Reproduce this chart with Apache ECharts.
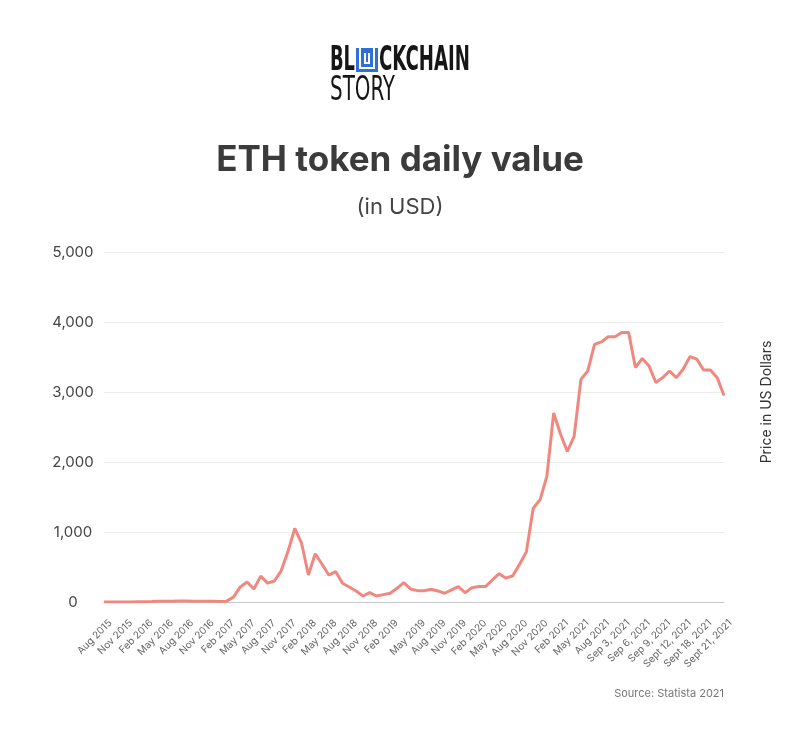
<!DOCTYPE html>
<html>
<head>
<meta charset="utf-8">
<script src="https://cdn.jsdelivr.net/npm/echarts@6/dist/echarts.min.js"></script>
<style>
  html, body { margin: 0; padding: 0; background: #fff; }
  #chart { width: 800px; height: 741px; }
</style>
</head>
<body>
<div id="chart"></div>
<script>
// x axis tick labels (every ~3rd point)
const xLabels = ['Aug 2015', 'Nov 2015', 'Feb 2016', 'May 2016', 'Aug 2016', 'Nov 2016',
  'Feb 2017', 'May 2017', 'Aug 2017', 'Nov 2017', 'Feb 2018', 'May 2018', 'Aug 2018',
  'Nov 2018', 'Feb 2019', 'May 2019', 'Aug 2019', 'Nov 2019', 'Feb 2020', 'May 2020',
  'Aug 2020', 'Nov 2020', 'Feb 2021', 'May 2021', 'Aug 2021', 'Sep 3, 2021', 'Sep 6, 2021',
  'Sep 9, 2021', 'Sept 12, 2021', 'Sept 18, 2021', 'Sept 21, 2021'];

// ETH price, USD
const prices = [
  1, 1, 1, 1, 1, 2, 3, 6, 10, 10, 12, 14, 13, 12, 11, 10, 9, 8,
  12, 70, 215, 285, 185, 370, 270, 300, 445, 720, 1050, 840, 385, 690, 540, 385,
  435, 268, 215, 158, 86, 133, 86, 105, 125, 196, 277, 186, 162, 162, 182, 158,
  125, 172, 220, 133, 205, 220, 220, 315, 405, 340, 375, 540, 720, 1340, 1460, 1795,
  2700, 2400, 2150, 2365, 3180, 3300, 3680, 3715, 3790, 3790, 3850, 3850, 3350, 3480,
  3370, 3135, 3205, 3300, 3205, 3325, 3505, 3470, 3315, 3315, 3205, 2950
];

const yTicks = [0, 1000, 2000, 3000, 4000, 5000];

// place the tick labels along the points
let categories = prices.map(() => '');
xLabels.forEach((lab, k) => {
  categories[Math.round(k * (prices.length - 1) / (xLabels.length - 1))] = lab;
});

const chart = echarts.init(document.getElementById('chart'));

// logo text helper: squeeze a word into a given width
const ctx = document.createElement('canvas').getContext('2d');
function logoWord(text, x, w, cy, weight) {
  const font = weight + ' 33px "DejaVu Sans Condensed"';
  ctx.font = font;
  const s = w / ctx.measureText(text).width;
  return {
    type: 'text', x: x, y: cy, scaleX: s,
    style: { text: text, font: font, fill: '#161616', align: 'left', verticalAlign: 'middle' }
  };
}

const ix = 356, iy = 48;

const option = {
  animation: false,
  grid: { left: 104, right: 76, top: 252, bottom: 139 },
  graphic: [
    logoWord('BL', 330, 25, 61, 'bold'),
    { type: 'rect', shape: { x: ix, y: iy, width: 22, height: 24 }, style: { fill: '#2f6fd8' } },
    { type: 'polyline', shape: { points: [[ix + 4, iy], [ix + 4, iy + 20], [ix + 18, iy + 20], [ix + 18, iy]] },
      style: { stroke: '#fff', lineWidth: 2, fill: null } },
    { type: 'polyline', shape: { points: [[ix + 9, iy + 5], [ix + 9, iy + 15], [ix + 13, iy + 15], [ix + 13, iy + 5]] },
      style: { stroke: '#fff', lineWidth: 2, fill: null } },
    logoWord('CKCHAIN', 379, 91, 61, 'bold'),
    logoWord('STORY', 330, 65, 91, 'normal'),
    {
      type: 'text', x: 400, y: 160,
      style: { text: 'ETH token daily value', font: 'bold 35px Inter', fill: '#3b3b3b', align: 'center', verticalAlign: 'middle' }
    },
    {
      type: 'text', x: 400, y: 207,
      style: { text: '(in USD)', font: '22px Inter', fill: '#444', align: 'center', verticalAlign: 'middle' }
    },
    {
      type: 'text', x: 767, y: 402, rotation: Math.PI / 2,
      style: { text: 'Price in US Dollars', font: '14px Inter', fill: '#333', align: 'center', verticalAlign: 'middle' }
    },
    {
      type: 'text', x: 724, y: 694,
      style: { text: 'Source: Statista 2021', font: '11px Inter', fill: '#777', align: 'right', verticalAlign: 'middle' }
    }
  ],
  xAxis: {
    type: 'category',
    data: categories,
    boundaryGap: false,
    axisLine: { lineStyle: { color: '#c8c8c8', width: 1 } },
    axisTick: { show: false },
    axisLabel: {
      interval: 0,
      rotate: 45,
      margin: 13,
      verticalAlign: 'top',
      padding: [4, 0, 0, 0],
      fontFamily: 'Inter',
      fontSize: 10,
      color: '#666'
    }
  },
  yAxis: {
    type: 'value',
    min: yTicks[0],
    max: yTicks[yTicks.length - 1],
    interval: 1000,
    axisLine: { show: false },
    axisTick: { show: false },
    splitLine: { lineStyle: { color: '#ececec', width: 1 } },
    axisLabel: {
      margin: 31,
      align: 'center',
      fontFamily: 'Inter',
      fontSize: 15,
      color: '#444',
      formatter: (v) => v.toLocaleString('en-US')
    }
  },
  series: [{
    type: 'line',
    data: prices,
    showSymbol: false,
    lineStyle: { color: '#f08880', width: 3 },
    itemStyle: { color: '#f08880' }
  }]
};
chart.setOption(option);
</script>
</body>
</html>
